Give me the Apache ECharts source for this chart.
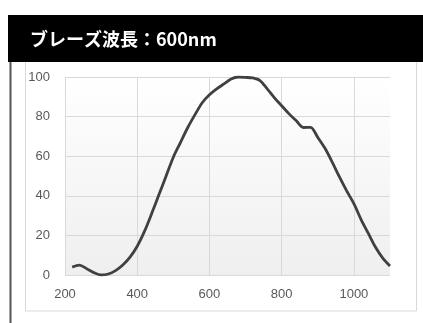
<!DOCTYPE html>
<html>
<head>
<meta charset="utf-8">
<script src="https://cdn.jsdelivr.net/npm/echarts@6/dist/echarts.min.js"></script>
<style>
html,body{margin:0;padding:0;background:#fff;}
#c{width:423px;height:323px;}
</style>
</head>
<body>
<div id="c"></div>
<script>
const titleText = 'ブレーズ波長：600nm';
const wavelengths = [220,240,260,280,300,320,340,360,380,400,420,440,460,480,500,520,540,560,580,600,620,640,660,680,700,720,740,760,780,800,820,840,860,880,900,920,940,960,980,1000,1020,1040,1060,1080,1100];
const efficiency = [4,5,3.2,1.2,0,0.5,2.2,5,9,14.5,22,31,40.5,50,59.5,67,74.5,81,87,91,94,96.5,99,100,99.8,99.5,98.2,94,89.5,85.5,81.5,78,74.5,74.6,69.5,64,57,49.5,42.5,36,28,21,14,8.5,4.5];
const xTicks = [200,400,600,800,1000];
const yTicks = [0,20,40,60,80,100];

const chart = echarts.init(document.getElementById('c'), null, {renderer:'canvas'});
const data = wavelengths.map((w,i)=>[w, efficiency[i]]);
const labelFont = {color:'#595959', fontSize:13, fontFamily:'Liberation Sans, Arial, sans-serif'};
chart.setOption({
  animation:false,
  backgroundColor:'#fff',
  title:{
    text:titleText, left:30, top:30, padding:0,
    textStyle:{color:'#fff', fontSize:18, fontWeight:'bold', fontFamily:'Noto Sans CJK JP, sans-serif', lineHeight:18}
  },
  graphic:[
    {type:'rect', z:-1, shape:{x:25.5,y:55,width:391,height:256}, style:{fill:'#fff', stroke:'#d9d9d9', lineWidth:1}},
    {type:'rect', z:0, shape:{x:8,y:15,width:415,height:47}, style:{fill:'#000'}},
    {type:'rect', z:0, shape:{x:9.5,y:62,width:2,height:261}, style:{fill:'#555'}}
  ],
  grid:{
    left:65, right:33, top:77, bottom:48, show:true, borderWidth:0,
    backgroundColor:new echarts.graphic.LinearGradient(0,0,0,1,[{offset:0,color:'#ffffff'},{offset:1,color:'#efefef'}])
  },
  xAxis:{
    type:'value', min:200, max:1100, interval:200,
    axisLine:{show:false}, axisTick:{show:false},
    axisLabel:{...labelFont, margin:13, showMaxLabel:false, formatter:v=>xTicks.includes(v)?String(v):''},
    splitLine:{show:true, showMaxLine:false, lineStyle:{color:'#d9d9d9', width:1}}
  },
  yAxis:{
    type:'value', min:0, max:100, interval:20,
    axisLine:{show:false}, axisTick:{show:false},
    axisLabel:{...labelFont, margin:15, formatter:v=>yTicks.includes(v)?String(v):''},
    splitLine:{show:true, lineStyle:{color:'#d9d9d9', width:1}}
  },
  series:[{
    type:'line', data:data, smooth:0.3, showSymbol:false,
    lineStyle:{color:'#404040', width:2.8}
  }]
});
</script>
</body>
</html>
